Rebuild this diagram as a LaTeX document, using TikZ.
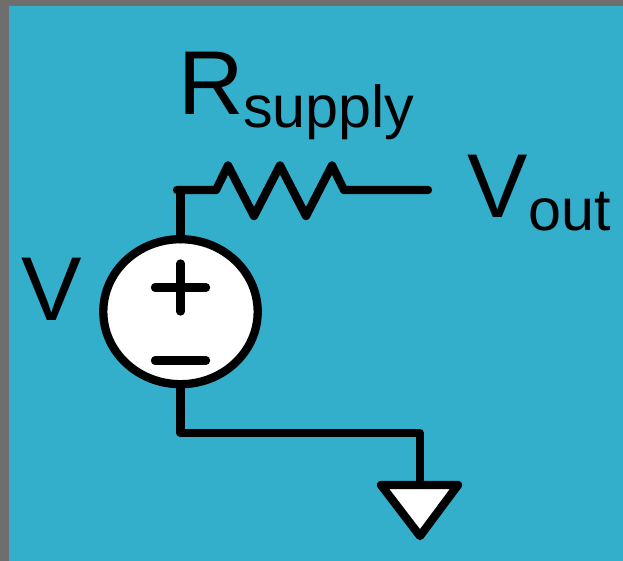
\documentclass[tikz,border=0pt]{standalone}
\usepackage{fontspec}
\usetikzlibrary{shapes.geometric}
\setmainfont{Liberation Sans}
\definecolor{bgblue}{HTML}{33AECB}
\definecolor{edgegray}{HTML}{6E6E6E}
\tikzset{
  wire/.style={line width=8.3bp,line cap=round,line join=round,draw=black},
  lbl/.style={inner sep=0pt,anchor=base west,text=black},
}
\begin{document}
\begin{tikzpicture}[x=1bp,y=-1bp]
\useasboundingbox (0,0) rectangle (623,561);
\fill[edgegray] (0,0) rectangle (623,561);
\fill[bgblue] (9,6) rectangle (623,561);
\node[ellipse,draw=black,line width=8.3bp,fill=white,minimum width=154.4bp,minimum height=145bp,inner sep=0pt,outer sep=0pt] (src) at (180.5,311.7) {};
\coordinate (top) at (180.5,190);
\coordinate (topl) at (177,190);
\coordinate (vo) at (428,190);
\coordinate (bl) at (180.5,433);
\coordinate (br) at (420,433);
\coordinate (gt) at (420,485);
\draw[wire] (src.north) -- (top);
\draw[wire] (topl) -- (216,190) -- (228,165.5) -- (254,216) -- (280,165.5) -- (306,216) -- (332,165.5) -- (344,190) -- (vo);
\draw[wire] (src.south) -- (bl) -- (br) -- (gt);
\draw[wire,fill=white] (381,485) -- (458,485) -- (420,536) -- cycle;
\draw[wire] (155,287.5) -- (206,287.5) (180.5,263.5) -- (180.5,311.5);
\draw[wire] (155,360.5) -- (206,360.5);
\node[lbl,font=\fontsize{91}{91}\selectfont] (r) at (178,115) {R};
\node[lbl,font=\fontsize{59.5}{59.5}\selectfont] (sup) at (243,127.5) {supply};
\node[lbl,font=\fontsize{91}{91}\selectfont] (v1) at (467,218) {V};
\node[lbl,font=\fontsize{59.5}{59.5}\selectfont] (out) at (528,230.7) {out};
\node[lbl,font=\fontsize{91}{91}\selectfont] (v2) at (21,320) {V};
\end{tikzpicture}
\end{document}
